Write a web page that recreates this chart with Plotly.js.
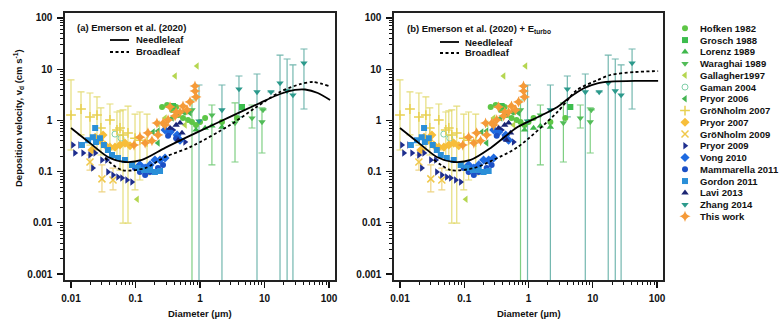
<!DOCTYPE html>
<html><head><meta charset="utf-8">
<script src="https://cdn.plot.ly/plotly-3.0.1.min.js"></script>
<style>html,body{margin:0;padding:0;background:#fff}#chart{width:783px;height:326px}</style>
</head><body><div id="chart"></div>
<script>
// ---------------- data ----------------
const xTickVals = [0.01, 0.1, 1, 10, 100];
const xTickText = ['0.01', '0.1', '1', '10', '100'];
const yTickVals = [0.001, 0.01, 0.1, 1, 10, 100];
const yTickText = ['0.001', '0.01', '0.1', '1', '10', '100'];

const seriesNames = ['Hofken 1982','Grosch 1988','Lorenz 1989','Waraghai 1989','Gallagher1997','Gaman 2004','Pryor 2006','GröNholm 2007','Pryor 2007','GröNholm 2009','Pryor 2009','Vong 2010','Mammarella 2011','Gordon 2011','Lavi 2013','Zhang 2014','This work'];

const hofkenD = [0.258,0.309,0.369,0.458,0.545,0.652,0.751,0.867,1.0,1.2,2.19,3.74,0.586,0.426];
const hofkenV = [1.83,2.0,1.60,1.27,1.11,1.02,0.93,0.81,0.93,1.11,0.93,1.11,1.46,1.83];
const groschD = [0.382,4.48];
const groschV = [1.91,1.83];
const lorenzD = [0.867,1.2,1.53,2.19];
const lorenzV = [0.65,0.71,0.78,0.74];
const waraghaiD  = [0.751,1.53,3.49,6.40,9.14,9.47];
const waraghaiV  = [1.60,1.27,0.89,1.11,0.93,1.60];
const waraghaiHi = [2.50,2.0,2.19,2.0,1.75,1.60];
const waraghaiLo = [0.0006,0.135,0.154,0.71,0.231,1.60];
const gallagherD = [0.411,0.899,0.106,0.223,0.586,0.287];
const gallagherV = [7.36,11.5,0.029,0.85,0.81,1.11];
const gamanD = [0.0481,0.0596];
const gamanV = [0.54,0.45];
const pryor2006D = [0.187,0.223,0.287,0.369,0.458,0.565,0.70,0.223];
const pryor2006V = [0.59,0.62,0.81,1.11,1.33,1.46,1.40,0.36];
const gronholm2007D  = [0.0100,0.0143,0.0197,0.0253,0.0291,0.0402,0.0516,0.0575,0.064,0.0765,0.0983,0.117,0.151];
const gronholm2007V  = [1.27,1.67,1.17,1.27,0.71,1.02,0.65,0.71,0.52,0.57,0.45,0.41,0.38];
const gronholm2007Hi = [6.17,3.59,3.43,2.87,1.75,2.09,1.46,1.53,1.60,1.90,1.33,1.46,1.33];
const gronholm2007Lo = [0.264,0.52,0.33,0.264,0.211,0.264,0.169,0.107,0.0099,0.0099,0.0438,0.0685,0.086];
const pryor2007D = [0.0237,0.0281,0.0336,0.0402,0.0481,0.0575,0.0687,0.0822,0.0211,0.0314];
const pryor2007V = [0.47,0.41,0.33,0.30,0.30,0.33,0.36,0.32,0.264,0.52];
const gronholm2009D  = [0.0197,0.0302,0.0448];
const gronholm2009V  = [0.154,0.072,0.0685];
const gronholm2009Hi = [0.211,0.135,0.117];
const gronholm2009Lo = [0.107,0.040,0.0438];
const pryor2009D = [0.0107,0.0138,0.0115,0.0154,0.0197,0.0237,0.0218,0.0302,0.0361,0.0374,0.0448,0.0535,0.0617,0.0738,0.0883,0.382,0.586];
const pryor2009V = [0.33,0.33,0.231,0.231,0.211,0.231,0.117,0.169,0.169,0.098,0.086,0.078,0.075,0.0685,0.0625,0.65,0.38];
const vongD = [0.117,0.141,0.168,0.2,0.24,0.287,0.287,0.343,0.442,0.49];
const vongV = [0.135,0.117,0.135,0.169,0.169,0.184,0.65,0.59,0.52,0.41];
const mammarellaD = [0.0983,0.117,0.141,0.168,0.223,0.267,0.32,0.426];
const mammarellaV = [0.117,0.098,0.086,0.098,0.117,0.135,0.50,0.45];
const gordonD = [0.0148,0.0184,0.0218,0.0244,0.0281,0.0324,0.0374,0.0432,0.0535,0.0687,0.0883,0.109,0.136,0.168,0.2,0.24,0.0237];
const gordonV = [0.33,0.41,0.47,0.38,0.45,0.33,0.264,0.211,0.184,0.169,0.135,0.117,0.107,0.107,0.098,0.103,0.71];
const laviD = [0.343,0.426,0.49,0.526,0.458];
const laviV = [0.71,0.81,0.89,0.57,0.41];
const zhangD  = [0.965,2.19,4.02,7.65,12.6,17.4,22.4,27.6,40.9];
const zhangV  = [0.97,1.60,4.10,3.59,3.59,5.37,3.75,3.13,13.2];
const zhangHi = [4.91,4.91,7.36,8.06,3.59,18.9,15.8,12.1,24.8];
const zhangLo = [0.0006,0.0006,1.17,0.0006,3.59,0.0006,0.0006,0.0006,1.67];
const thisWorkD = [0.0948,0.117,0.156,0.215,0.267,0.343,0.411,0.49,0.629,0.70,0.867,0.836,0.836,0.18,0.141,0.223,0.287,0.32,0.545,0.426];
const thisWorkV = [0.33,0.47,0.57,0.89,0.89,1.83,1.22,1.46,1.60,2.29,2.87,3.75,4.70,0.40,0.36,0.52,0.81,1.02,1.91,1.46];

// model curves, panel (a)
const needleA_D = [0.01,0.0197,0.0374,0.0687,0.126,0.287,0.629,1.83,4.98,8.5,17.4,29.6,42.6,67,104];
const needleA_V = [0.71,0.36,0.193,0.154,0.169,0.29,0.47,0.89,1.60,2.19,3.28,3.93,4.01,3.43,2.50];
const broadA_D = [0.0336,0.0617,0.141,0.287,0.70,2.92,7.14,17.4,35.6,56.4,100];
const broadA_V = [0.184,0.107,0.117,0.193,0.30,0.81,1.75,3.59,5.1,5.62,4.70];
// model curves, panel (b)
const needleB_D = [0.01,0.0197,0.0374,0.0687,0.126,0.258,0.675,1.38,2.82,4.48,7.13,11.8,18.7,45.6,104];
const needleB_V = [0.71,0.36,0.193,0.154,0.169,0.29,0.74,1.15,1.83,2.87,4.2,5.3,5.7,5.9,5.9];
const broadB_D = [0.0336,0.0617,0.141,0.287,0.675,2.82,5.7,11.8,18.7,45.6,104];
const broadB_V = [0.17,0.107,0.117,0.17,0.30,1.46,3.93,6.1,7.7,8.8,9.2];

// ---------------- styling ----------------
const FONT = 'Liberation Sans, Arial, sans-serif';
const series = [
  {d: hofkenD, v: hofkenV, sym: 'circle', col: '#5ec646', size: 6},
  {d: groschD, v: groschV, sym: 'square', col: '#3cbd4d', size: 6},
  {d: lorenzD, v: lorenzV, sym: 'triangle-up', col: '#3fb84c', size: 6.5},
  {d: waraghaiD, v: waraghaiV, hi: waraghaiHi, lo: waraghaiLo, sym: 'triangle-down', col: '#52bc58', size: 6.5, ecol: 'rgba(95,195,100,0.8)'},
  {d: gallagherD, v: gallagherV, sym: 'triangle-left', col: '#b5d650', size: 6.5},
  {d: gamanD, v: gamanV, sym: 'circle-open', col: '#7fcfa8', size: 6, line: 1},
  {d: pryor2006D, v: pryor2006V, sym: 'triangle-left', col: '#44b452', size: 6.5},
  {d: gronholm2007D, v: gronholm2007V, hi: gronholm2007Hi, lo: gronholm2007Lo, sym: 'cross-thin-open', col: '#e8d050', size: 7, line: 1.5, ecol: 'rgba(225,215,100,0.85)'},
  {d: pryor2007D, v: pryor2007V, sym: 'diamond', col: '#f7be3a', size: 7},
  {d: gronholm2009D, v: gronholm2009V, hi: gronholm2009Hi, lo: gronholm2009Lo, sym: 'x-thin-open', col: '#f0c84a', size: 7, line: 1.5, ecol: 'rgba(235,205,110,0.85)'},
  {d: pryor2009D, v: pryor2009V, sym: 'triangle-right', col: '#1e2e8e', size: 6.5},
  {d: vongD, v: vongV, sym: 'diamond', col: '#1f6ae0', size: 7},
  {d: mammarellaD, v: mammarellaV, sym: 'circle', col: '#1b50c6', size: 6},
  {d: gordonD, v: gordonV, sym: 'square', col: '#2a8fd8', size: 6},
  {d: laviD, v: laviV, sym: 'triangle-up', col: '#1c2674', size: 6.5},
  {d: zhangD, v: zhangV, hi: zhangHi, lo: zhangLo, sym: 'triangle-down', col: '#2c9a8c', size: 6.5, ecol: 'rgba(80,165,155,0.8)'},
  {d: thisWorkD, v: thisWorkV, sym: 'star-diamond', col: '#f59a38', size: 8}
];

function markerOf(s) {
  const m = {symbol: s.sym, size: s.size, color: s.col, line: {width: 0}};
  if (s.line) m.line = {width: s.line, color: s.col};
  return m;
}

const traces = [];
// error bars first (behind markers), then markers
[['x','y'],['x2','y2']].forEach(([xa, ya]) => {
  series.forEach(s => {
    if (!s.hi) return;
    traces.push({
      x: s.d, y: s.v, xaxis: xa, yaxis: ya, mode: 'markers', type: 'scatter',
      marker: {size: 1, color: 'rgba(0,0,0,0)'}, showlegend: false, hoverinfo: 'skip',
      error_y: {type: 'data', symmetric: false,
        array: s.hi.map((h, i) => h - s.v[i]),
        arrayminus: s.lo.map((l, i) => s.v[i] - l),
        color: s.ecol, thickness: 1.2, width: 3.5}
    });
  });
  series.forEach((s, i) => {
    traces.push({x: s.d, y: s.v, xaxis: xa, yaxis: ya, mode: 'markers', type: 'scatter',
      name: seriesNames[i], marker: markerOf(s), showlegend: false});
  });
});

// model curves on top
const curve = (d, v, xa, ya, dash) => ({x: d, y: v, xaxis: xa, yaxis: ya, mode: 'lines', type: 'scatter',
  line: {color: '#000', width: 1.8, dash: dash, shape: 'spline', smoothing: 0.8}, showlegend: false});
traces.push(curve(needleA_D, needleA_V, 'x', 'y', 'solid'));
traces.push(curve(broadA_D, broadA_V, 'x', 'y', '3px,2.5px'));
traces.push(curve(needleB_D, needleB_V, 'x2', 'y2', 'solid'));
traces.push(curve(broadB_D, broadB_V, 'x2', 'y2', '3px,2.5px'));

// legend keys on a hidden axis: one row per series
series.forEach((s, i) => {
  traces.push({x: [0.5], y: [-i], xaxis: 'x3', yaxis: 'y3', mode: 'markers', type: 'scatter',
    marker: markerOf(s), showlegend: false, hoverinfo: 'skip', cliponaxis: false});
});

// ---------------- layout ----------------
const W = 783, H = 326;
const px = v => v / W, py = v => 1 - v / H;
function decadeMinors(lo, hi) {
  const out = [];
  for (let e = lo; e < hi; e++) for (let k = 2; k <= 9; k++) out.push(k * Math.pow(10, e));
  return out;
}
const tickFont = {family: FONT, size: 10, color: '#111', weight: 'bold'};
function xAx(domain, anchor) {
  return {type: 'log', domain: domain, range: [-2.093, 2.093], anchor: anchor,
    tickmode: 'array', tickvals: xTickVals, ticktext: xTickText, tickfont: tickFont,
    ticks: 'outside', ticklen: 6, tickwidth: 1.2, tickcolor: '#111', ticklabelstandoff: 2,
    minor: {tickmode: 'array', tickvals: decadeMinors(-2, 2), ticklen: 3.5, tickwidth: 1, tickcolor: '#111', showgrid: false},
    showline: true, linecolor: '#222', linewidth: 1.6, mirror: true,
    showgrid: false, zeroline: false};
}
function yAx(anchor) {
  return {type: 'log', domain: [46 / H, 313.5 / H], range: [-3.117, 2.107], anchor: anchor,
    tickmode: 'array', tickvals: yTickVals, ticktext: yTickText, tickfont: tickFont,
    ticks: 'outside', ticklen: 6, tickwidth: 1.2, tickcolor: '#111', ticklabelstandoff: 3,
    minor: {tickmode: 'array', tickvals: decadeMinors(-3, 2), ticklen: 3.5, tickwidth: 1, tickcolor: '#111', showgrid: false},
    showline: true, linecolor: '#222', linewidth: 1.6, mirror: true,
    showgrid: false, zeroline: false};
}

const labFont = {family: FONT, size: 9.5, color: '#111', weight: 'bold'};
const ann = (x, y, text, xanchor, extra) => Object.assign({xref: 'paper', yref: 'paper', x: px(x), y: py(y),
  text: text, xanchor: xanchor, yanchor: 'middle', showarrow: false, font: labFont}, extra || {});
const annotations = [
  ann(18, 118, 'Deposition velocity, v<sub>d</sub> (cm s<sup>-1</sup>)', 'center', {textangle: -90}),
  ann(200, 313, 'Diameter (µm)', 'center'),
  ann(529, 313, 'Diameter (µm)', 'center'),
  ann(75, 28, '(a) Emerson et al. (2020)', 'left'),
  ann(134, 40, 'Needleleaf', 'left'),
  ann(134, 52, 'Broadleaf', 'left'),
  ann(405, 29, '(b) Emerson et al. (2020) + E<sub>turbo</sub>', 'left'),
  ann(463, 42, 'Needleleaf', 'left'),
  ann(463, 53, 'Broadleaf', 'left')
];
seriesNames.forEach((n, i) => {
  annotations.push({xref: 'paper', yref: 'y3', x: px(698), y: -i, xanchor: 'left', yanchor: 'middle', text: n, showarrow: false,
    font: {family: FONT, size: 9.5, color: '#111', weight: 'bold'}});
});

const shapes = [
  {type: 'line', xref: 'paper', yref: 'paper', x0: px(110), x1: px(129), y0: py(40), y1: py(40), line: {color: '#000', width: 1.8}},
  {type: 'line', xref: 'paper', yref: 'paper', x0: px(110), x1: px(129), y0: py(52), y1: py(52), line: {color: '#000', width: 1.8, dash: '3px,2.5px'}},
  {type: 'line', xref: 'paper', yref: 'paper', x0: px(440), x1: px(459), y0: py(42), y1: py(42), line: {color: '#000', width: 1.8}},
  {type: 'line', xref: 'paper', yref: 'paper', x0: px(440), x1: px(459), y0: py(53), y1: py(53), line: {color: '#000', width: 1.8, dash: '3px,2.5px'}}
];

const layout = {
  width: W, height: H, margin: {l: 0, r: 0, t: 0, b: 0},
  paper_bgcolor: '#fff', plot_bgcolor: '#fff', showlegend: false,
  xaxis: xAx([65 / W, 335 / W], 'y'),
  yaxis: yAx('x'),
  xaxis2: xAx([394 / W, 663 / W], 'y2'),
  yaxis2: yAx('x2'),
  xaxis3: {domain: [670 / W, 700 / W], range: [0, 1], visible: false, anchor: 'y3'},
  yaxis3: {domain: [0, 1], range: [-25.336, 2.409], visible: false, anchor: 'x3'},
  annotations: annotations, shapes: shapes
};

Plotly.newPlot('chart', traces, layout, {staticPlot: true, displayModeBar: false});
</script></body></html>
